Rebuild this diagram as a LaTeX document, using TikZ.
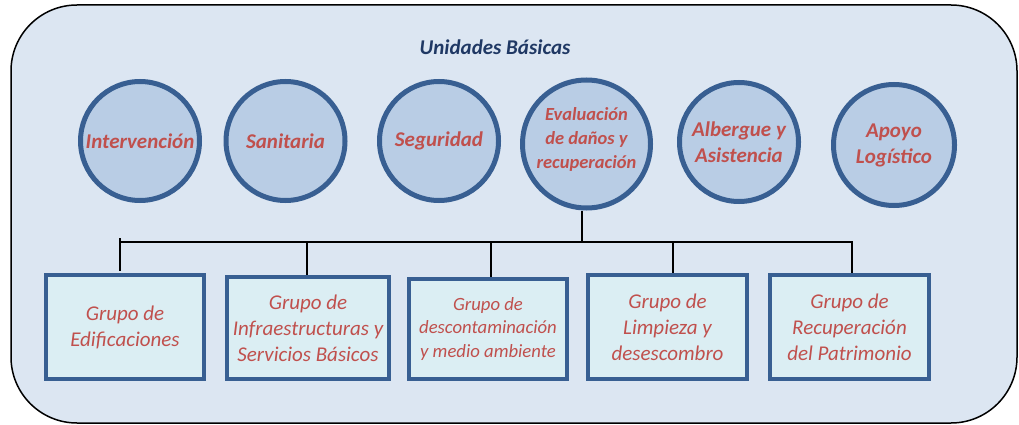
\documentclass[tikz,border=0pt]{standalone}
\usepackage{fontspec}
\setmainfont{Carlito}
\definecolor{bgc}{HTML}{DCE6F2}
\definecolor{circfill}{HTML}{B9CDE5}
\definecolor{circline}{HTML}{385F92}
\definecolor{txtred}{HTML}{C0504D}
\definecolor{navy}{HTML}{1F3864}
\definecolor{boxfill}{HTML}{DBEEF3}
\begin{document}
\begin{tikzpicture}[x=1pt,y=-1pt,
  unit/.style={circle, draw=circline, fill=circfill, line width=5pt, inner sep=0pt,
    minimum size=#1, align=center, text=txtred,
    font=\fontsize{21}{26}\selectfont\bfseries\itshape},
  unit/.default=119pt,
  grp/.style={draw=circline, fill=boxfill, line width=4pt, inner sep=0pt, align=center,
    text=txtred, font=\fontsize{21}{26}\selectfont\itshape},
  conn/.style={draw=black, line width=1.3pt}]
\useasboundingbox (0,0) rectangle (1019,425);
\draw[fill=bgc, line width=1.5pt, rounded corners=66pt] (11,5) rectangle (1017,423);
\node[text=navy, font=\fontsize{21}{24}\selectfont\bfseries\itshape] (title) at (495,47) {Unidades Básicas};
\node[unit] (int) at (140,141) {Intervención};
\node[unit] (san) at (285.5,141) {Sanitaria};
\node[unit] (seg) at (439,141) {Seguridad};
\node[unit=128pt, font=\fontsize{18.5}{24}\selectfont\bfseries\itshape] (eva) at (586.5,144) {Evaluación\\de daños y\\recuperación\\[-12pt]\mbox{}};
\node[unit] (alb) at (739,142) {Albergue y\\Asistencia};
\node[unit=121pt] (apo) at (894,145) {Apoyo\\Logístico};
\node[grp, minimum width=158pt, minimum height=104pt] (g1) at (125,327) {Grupo de\\Edificaciones};
\node[grp, minimum width=162pt, minimum height=102pt] (g2) at (308,328) {Grupo de\\Infraestructuras y\\Servicios Básicos};
\node[grp, minimum width=158pt, minimum height=100pt, font=\fontsize{18.7}{23.5}\selectfont\itshape] (g3) at (488,329) {Grupo de\\descontaminación\\y medio ambiente};
\node[grp, minimum width=159pt, minimum height=104pt] (g4) at (667.5,327) {Grupo de\\Limpieza y\\desescombro};
\node[grp, minimum width=159pt, minimum height=104pt] (g5) at (849.5,327) {Grupo de\\Recuperación\\del Patrimonio};
\coordinate (d1) at (120,242);
\coordinate (d2) at (307,242);
\coordinate (d3) at (491,242);
\coordinate (de) at (582,242);
\coordinate (d4) at (673,242);
\coordinate (d5) at (852,242);
\coordinate (tick) at (120,238);
\coordinate (end1) at (120,271);
\draw[conn] (de |- eva.south) -- (de);
\draw[conn] (tick) -- (end1);
\draw[conn] (d1) -- (d5) -- (d5 |- g5.north);
\draw[conn] (d2) -- (d2 |- g2.north);
\draw[conn] (d3) -- (d3 |- g3.north);
\draw[conn] (d4) -- (d4 |- g4.north);
\end{tikzpicture}
\end{document}
